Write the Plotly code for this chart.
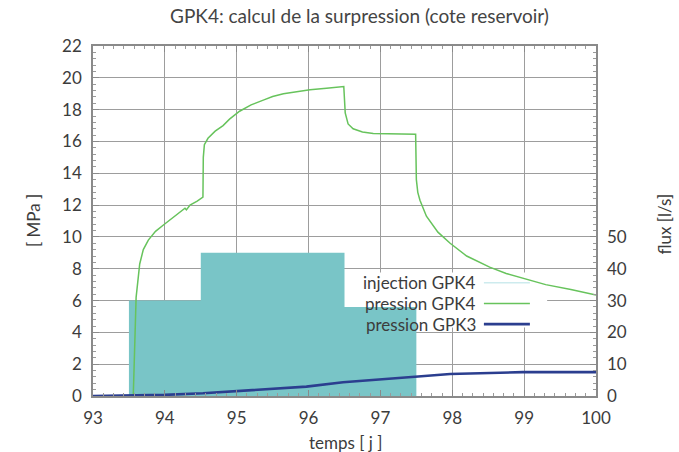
import plotly.graph_objects as go

# Injection rate at GPK4, step schedule (l/s)
inj_t = [93.5, 94.5, 96.5, 97.5]
inj_q = [30, 45, 28, 0]

# Well-head overpressure at GPK4 (MPa)
p4_t = [93.0, 93.56, 93.57, 93.58, 93.6, 93.65, 93.7, 93.77, 93.87, 93.98, 94.1, 94.19,
        94.28, 94.3, 94.35, 94.45, 94.53, 94.535, 94.55, 94.6, 94.7, 94.81, 94.9, 95.04,
        95.2, 95.37, 95.5, 95.65, 95.8, 96.02, 96.25, 96.48, 96.49, 96.51, 96.55, 96.62,
        96.75, 96.9, 97.2, 97.49, 97.5, 97.52, 97.55, 97.6, 97.64, 97.8, 97.97, 98.2,
        98.52, 98.75, 98.98, 99.3, 99.65, 100.0]
p4_p = [0.0, 0.0, 1.5, 3.5, 6.2, 8.3, 9.2, 9.8, 10.35, 10.75, 11.15, 11.5,
        11.8, 11.7, 12.0, 12.25, 12.5, 15.0, 15.8, 16.2, 16.65, 17.0, 17.4, 17.9,
        18.3, 18.6, 18.82, 19.0, 19.12, 19.25, 19.35, 19.45, 19.45, 17.8, 17.1, 16.8,
        16.6, 16.5, 16.47, 16.45, 13.6, 12.8, 12.3, 11.7, 11.3, 10.3, 9.6, 8.8,
        8.1, 7.7, 7.4, 7.0, 6.7, 6.35]

# Overpressure at GPK3 (MPa)
p3_t = [93.0, 93.5, 94.0, 94.53, 95.28, 95.97, 96.48, 97.13, 97.48, 97.97, 98.52, 98.98, 99.5, 100.0]
p3_p = [0.0, 0.02, 0.07, 0.17, 0.38, 0.59, 0.86, 1.11, 1.21, 1.38, 1.47, 1.5, 1.5, 1.5]

# Tick labels
x_ticks = [93, 94, 95, 96, 97, 98, 99, 100]
p_ticks = list(range(0, 23, 2))
q_ticks = [0, 10, 20, 30, 40, 50]

legend_names = ["injection GPK4", "pression GPK4", "pression GPK3"]

FONT = "Lato"
TXT = "#3c3c3c"
TEAL = "#79c5c7"
GREEN = "#67c35c"
NAVY = "#2b3e8f"
PALE = "#cdebee"
GRID = "#9d9d9d"

fig = go.Figure()

# injection steps on the flux axis (drawn first, under the pressure curves)
fig.add_trace(go.Scatter(x=inj_t, y=inj_q, mode="lines", line=dict(shape="hv", width=0, color=TEAL),
                         fill="tozeroy", fillcolor=TEAL, yaxis="y", name=legend_names[0],
                         showlegend=False, hoverinfo="skip"))
fig.add_trace(go.Scatter(x=p4_t, y=p4_p, mode="lines", line=dict(color=GREEN, width=1.5),
                         yaxis="y2", name=legend_names[1], showlegend=False))
fig.add_trace(go.Scatter(x=p3_t, y=p3_p, mode="lines", line=dict(color=NAVY, width=2.6),
                         yaxis="y2", name=legend_names[2], showlegend=False))

# key: right-aligned labels with the line samples to their right
key_colors = [PALE, GREEN, NAVY]
key_widths = [1.5, 1.5, 2.6]
key_y = [7.12, 5.82, 4.52]
for name, col, w, yy in zip(legend_names, key_colors, key_widths, key_y):
    fig.add_annotation(x=98.36, y=yy, xref="x", yref="y2", text=name, showarrow=False,
                       xanchor="right", yanchor="middle", font=dict(family=FONT, size=17, color=TXT))
    fig.add_shape(type="line", x0=98.44, x1=99.08, y0=yy, y1=yy, xref="x", yref="y2",
                  line=dict(color=col, width=w), layer="above")

# opaque key box (in flux units, main subplot): hides grid lines but stays under the data
fig.add_shape(type="rect", x0=96.4, x1=99.32, y0=21.5, y1=38.8, xref="x", yref="y",
              fillcolor="white", line=dict(width=0), layer="between")

fig.update_layout(
    width=679, height=452,
    margin=dict(l=93, r=83, t=46, b=56),
    paper_bgcolor="white", plot_bgcolor="white",
    font=dict(family=FONT, size=16, color=TXT),
    xaxis=dict(range=[93, 100], tickvals=x_ticks, ticks="inside", ticklen=6, tickcolor="#8a8a8a",
               showgrid=True, gridcolor=GRID, gridwidth=1, zeroline=False,
               showline=True, linecolor="#8a8a8a", linewidth=1.5, mirror="ticks",
               minor=dict(dtick=1/7, tick0=93, ticks="inside", ticklen=3, tickcolor="#9a9a9a", showgrid=False),
               tickfont=dict(size=17, color=TXT), ticklabelstandoff=6),
    yaxis=dict(range=[0, 110], side="right", tickvals=q_ticks, ticks="", showgrid=False,
               zeroline=False, showline=False, tickfont=dict(size=17, color=TXT),
               ticklabelstandoff=10),
    yaxis2=dict(range=[0, 22], overlaying="y", side="left", tickvals=p_ticks, ticks="inside",
                ticklen=6, tickcolor="#8a8a8a", showgrid=True, gridcolor=GRID, gridwidth=1,
                zeroline=False, showline=True, linecolor="#8a8a8a", linewidth=1.5, mirror="ticks",
                minor=dict(dtick=0.4, tick0=0, ticks="inside", ticklen=3, tickcolor="#9a9a9a", showgrid=False),
                tickfont=dict(size=17, color=TXT), ticklabelstandoff=6),
    showlegend=False,
)

# titles
fig.add_annotation(x=0.529, y=1.0, xref="paper", yref="paper", yshift=31, showarrow=False,
                   text="GPK4: calcul de la surpression (cote reservoir)",
                   font=dict(family=FONT, size=19, color="#444"), yanchor="middle")
fig.add_annotation(x=0.502, y=0, xref="paper", yref="paper", yshift=-46, showarrow=False,
                   text="temps [ j ]", font=dict(family=FONT, size=17, color=TXT), yanchor="middle")
fig.add_annotation(x=0, y=0.5, xref="paper", yref="paper", xshift=-60, showarrow=False,
                   text="[ MPa ]", textangle=-90, font=dict(family=FONT, size=17, color=TXT),
                   xanchor="center", yanchor="middle")
fig.add_annotation(x=1, y=0.49, xref="paper", yref="paper", xshift=68, showarrow=False,
                   text="flux [l/s]", textangle=-90, font=dict(family=FONT, size=17, color=TXT),
                   xanchor="center", yanchor="middle")

fig.write_html("out.html")
